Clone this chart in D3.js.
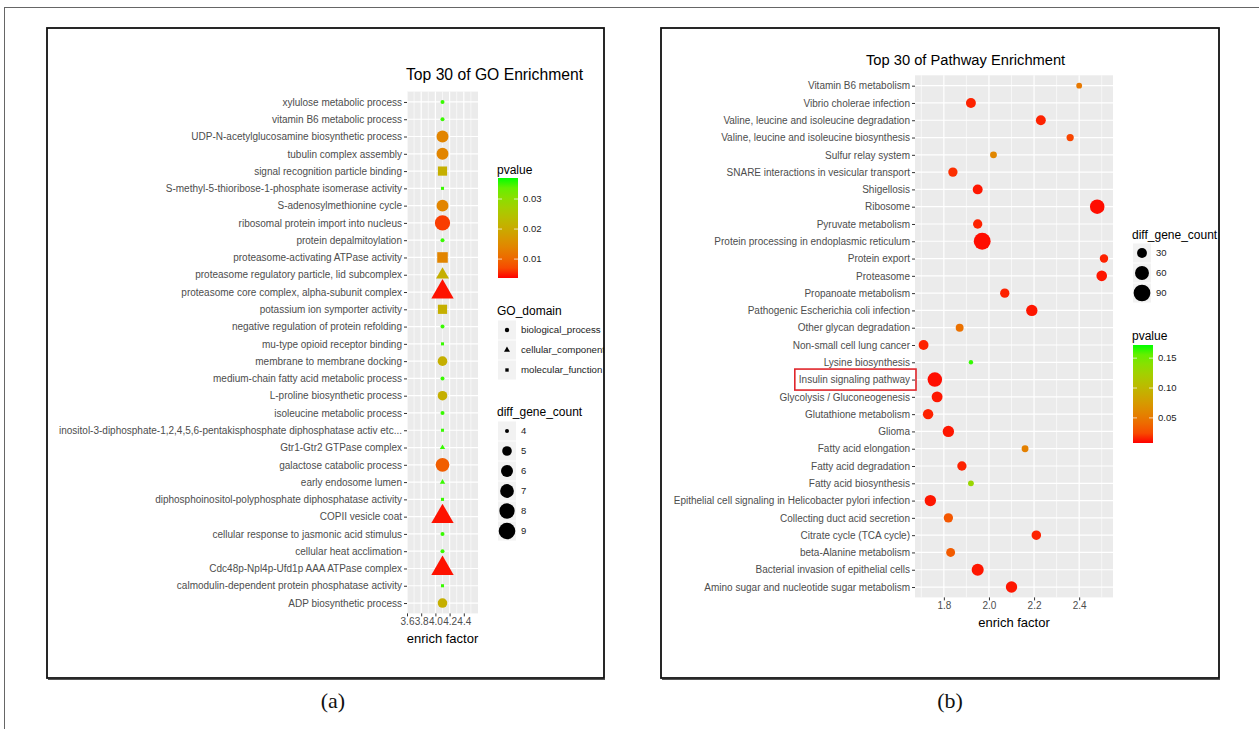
<!DOCTYPE html>
<html>
<head>
<meta charset="utf-8">
<script src="https://cdn.jsdelivr.net/npm/d3@7"></script>
<style>
  body { margin: 0; background: #fff; }
  svg text { font-family: "Liberation Sans", Arial, Helvetica, sans-serif; }
</style>
</head>
<body>
<div id="chart"></div>
<script>
// ---- panel (a): GO enrichment, listed top to bottom ----
const goTerms = [
  'xylulose metabolic process',
  'vitamin B6 metabolic process',
  'UDP-N-acetylglucosamine biosynthetic process',
  'tubulin complex assembly',
  'signal recognition particle binding',
  'S-methyl-5-thioribose-1-phosphate isomerase activity',
  'S-adenosylmethionine cycle',
  'ribosomal protein import into nucleus',
  'protein depalmitoylation',
  'proteasome-activating ATPase activity',
  'proteasome regulatory particle, lid subcomplex',
  'proteasome core complex, alpha-subunit complex',
  'potassium ion symporter activity',
  'negative regulation of protein refolding',
  'mu-type opioid receptor binding',
  'membrane to membrane docking',
  'medium-chain fatty acid metabolic process',
  'L-proline biosynthetic process',
  'isoleucine metabolic process',
  'inositol-3-diphosphate-1,2,4,5,6-pentakisphosphate diphosphatase activ etc...',
  'Gtr1-Gtr2 GTPase complex',
  'galactose catabolic process',
  'early endosome lumen',
  'diphosphoinositol-polyphosphate diphosphatase activity',
  'COPII vesicle coat',
  'cellular response to jasmonic acid stimulus',
  'cellular heat acclimation',
  'Cdc48p-Npl4p-Ufd1p AAA ATPase complex',
  'calmodulin-dependent protein phosphatase activity',
  'ADP biosynthetic process'
];
const goDomain = [
  'biological_process', 'biological_process', 'biological_process', 'biological_process',
  'molecular_function', 'molecular_function', 'biological_process', 'biological_process',
  'biological_process', 'molecular_function', 'cellular_component', 'cellular_component',
  'molecular_function', 'biological_process', 'molecular_function', 'biological_process',
  'biological_process', 'biological_process', 'biological_process', 'molecular_function',
  'cellular_component', 'biological_process', 'cellular_component', 'molecular_function',
  'cellular_component', 'biological_process', 'biological_process', 'cellular_component',
  'molecular_function', 'biological_process'
];
const goCount = [4, 4, 6, 6, 6, 4, 6, 8, 4, 7, 5, 9, 6, 4, 4, 5, 4, 5, 4, 4, 4, 7, 4, 4, 9, 4, 4, 9, 4, 5];
const goPvalue = [0.036, 0.036, 0.014, 0.014, 0.021, 0.036, 0.014, 0.006, 0.036, 0.014,
  0.021, 0.004, 0.021, 0.036, 0.036, 0.021, 0.036, 0.021, 0.036, 0.036,
  0.036, 0.009, 0.036, 0.036, 0.004, 0.036, 0.036, 0.004, 0.036, 0.021];
const goEnrich = [4.1, 4.1, 4.1, 4.1, 4.1, 4.1, 4.1, 4.1, 4.1, 4.1, 4.1, 4.1, 4.1, 4.1, 4.1,
  4.1, 4.1, 4.1, 4.1, 4.1, 4.1, 4.1, 4.1, 4.1, 4.1, 4.1, 4.1, 4.1, 4.1, 4.1];
const goTicks = [3.6, 3.8, 4.0, 4.2, 4.4];
const goDomains = ['biological_process', 'cellular_component', 'molecular_function'];
const goSizeBreaks = [4, 5, 6, 7, 8, 9];
const goPBreaks = [0.01, 0.02, 0.03];

// ---- panel (b): pathway enrichment, listed top to bottom ----
const pathTerms = [
  'Vitamin B6 metabolism',
  'Vibrio cholerae infection',
  'Valine, leucine and isoleucine degradation',
  'Valine, leucine and isoleucine biosynthesis',
  'Sulfur relay system',
  'SNARE interactions in vesicular transport',
  'Shigellosis',
  'Ribosome',
  'Pyruvate metabolism',
  'Protein processing in endoplasmic reticulum',
  'Protein export',
  'Proteasome',
  'Propanoate metabolism',
  'Pathogenic Escherichia coli infection',
  'Other glycan degradation',
  'Non-small cell lung cancer',
  'Lysine biosynthesis',
  'Insulin signaling pathway',
  'Glycolysis / Gluconeogenesis',
  'Glutathione metabolism',
  'Glioma',
  'Fatty acid elongation',
  'Fatty acid degradation',
  'Fatty acid biosynthesis',
  'Epithelial cell signaling in Helicobacter pylori infection',
  'Collecting duct acid secretion',
  'Citrate cycle (TCA cycle)',
  'beta-Alanine metabolism',
  'Bacterial invasion of epithelial cells',
  'Amino sugar and nucleotide sugar metabolism'
];
const pathEnrich = [2.40, 1.92, 2.23, 2.36, 2.02, 1.84, 1.95, 2.48, 1.95, 1.97,
  2.51, 2.50, 2.07, 2.19, 1.87, 1.71, 1.92, 1.76, 1.77, 1.73,
  1.82, 2.16, 1.88, 1.92, 1.74, 1.82, 2.21, 1.83, 1.95, 2.10];
const pathCount = [16, 30, 30, 19, 18, 27, 30, 66, 27, 92,
  23, 34, 27, 39, 21, 30, 15, 66, 36, 33,
  39, 18, 27, 16, 39, 27, 28, 25, 44, 39];
const pathPvalue = [0.05, 0.012, 0.012, 0.022, 0.06, 0.015, 0.01, 0.009, 0.012, 0.009,
  0.012, 0.01, 0.012, 0.01, 0.045, 0.012, 0.168, 0.009, 0.01, 0.012,
  0.01, 0.055, 0.012, 0.13, 0.01, 0.03, 0.012, 0.032, 0.01, 0.01];
const pathTicks = [1.8, 2.0, 2.2, 2.4];
const pathSizeBreaks = [30, 60, 90];
const pathPBreaks = [0.05, 0.10, 0.15];
const highlightTerm = 'Insulin signaling pathway';

// ---------------------------------------------------------------
const W = 1259, H = 729;
const svg = d3.select('#chart').append('svg').attr('width', W).attr('height', H);
const defs = svg.append('defs');

// figure frame and panel frames
svg.append('rect').attr('x', 4.5).attr('y', 7.5).attr('width', W + 20).attr('height', H + 20)
  .attr('fill', 'none').attr('stroke', '#666').attr('stroke-width', 1);

const boxes = [
  { id: 'a', x: 47, y: 28, w: 557, h: 650, label: '(a)', lx: 333 },
  { id: 'b', x: 661, y: 28, w: 558, h: 650, label: '(b)', lx: 950 }
];
boxes.forEach(b => {
  defs.append('clipPath').attr('id', 'clip-' + b.id)
    .append('rect').attr('x', b.x).attr('y', b.y).attr('width', b.w).attr('height', b.h);
  svg.append('text').attr('x', b.lx).attr('y', 708).attr('text-anchor', 'middle')
    .style('font-family', '"Liberation Serif", "Times New Roman", serif')
    .style('font-size', '22px').attr('fill', '#111').text(b.label);
});

const shapeOf = { biological_process: d3.symbolCircle, cellular_component: d3.symbolTriangle, molecular_function: d3.symbolSquare };
const areaFactor = { biological_process: 1, cellular_component: 1, molecular_function: 0.75 };

function symbolPath(domain, r) {
  return d3.symbol().type(shapeOf[domain]).size(Math.PI * r * r * areaFactor[domain])();
}

function dotPanel(o) {
  const g = svg.append('g').attr('clip-path', `url(#clip-${o.id})`);
  const x = d3.scaleLinear().domain(o.xDomain).range([o.left, o.right]);
  const y = d3.scalePoint().domain(o.terms).range([o.top, o.bottom]).padding(0.6);

  g.append('rect').attr('x', o.left).attr('y', o.top)
    .attr('width', o.right - o.left).attr('height', o.bottom - o.top).attr('fill', '#EBEBEB');

  // grid
  const grid = g.append('g').attr('stroke', '#fff');
  grid.selectAll('.minor').data(o.minor).join('line')
    .attr('x1', d => x(d)).attr('x2', d => x(d)).attr('y1', o.top).attr('y2', o.bottom)
    .attr('stroke-width', 0.6);
  grid.selectAll('.majx').data(o.ticks).join('line')
    .attr('x1', d => x(d)).attr('x2', d => x(d)).attr('y1', o.top).attr('y2', o.bottom)
    .attr('stroke-width', 1.2);
  grid.selectAll('.majy').data(o.terms).join('line')
    .attr('y1', d => y(d)).attr('y2', d => y(d)).attr('x1', o.left).attr('x2', o.right)
    .attr('stroke-width', 1.2);

  // axes
  const ya = g.append('g').attr('transform', `translate(${o.left},0)`)
    .call(d3.axisLeft(y).tickSize(3).tickPadding(2));
  const xa = g.append('g').attr('transform', `translate(0,${o.bottom})`)
    .call(d3.axisBottom(x).tickValues(o.ticks).tickFormat(d3.format('.1f')).tickSize(3).tickPadding(2));
  [ya, xa].forEach(a => {
    a.select('.domain').remove();
    a.selectAll('.tick line').attr('stroke', '#333').attr('stroke-width', 1);
    a.selectAll('text').attr('fill', '#4D4D4D').style('font-size', '10px');
  });

  // points
  const pts = o.terms.map((t, i) => ({ term: t, x: o.enrich[i], n: o.count[i], p: o.pvalue[i], dom: o.dom ? o.dom[i] : 'biological_process' }));
  g.selectAll('.pt').data(pts).join('path')
    .attr('transform', d => `translate(${x(d.x)},${y(d.term)})`)
    .attr('d', d => symbolPath(d.dom, o.size(d.n)))
    .attr('fill', d => o.color(d.p));

  // titles
  g.append('text').attr('x', o.titleX).attr('y', o.titleY).attr('fill', '#000')
    .style('font-size', o.titleSize).text(o.title);
  g.append('text').attr('x', (o.left + o.right) / 2).attr('y', o.xlabY).attr('text-anchor', 'middle')
    .attr('fill', '#000').style('font-size', '13px').text('enrich factor');

  return { g, x, y, ya };
}

function colorBar(g, o) {
  const gid = 'grad-' + o.id;
  const lg = defs.append('linearGradient').attr('id', gid)
    .attr('x1', 0).attr('y1', 1).attr('x2', 0).attr('y2', 0);
  d3.range(0, 1.0001, 0.1).forEach(t => {
    lg.append('stop').attr('offset', t)
      .attr('stop-color', o.color(o.color.domain()[0] + t * (o.color.domain()[1] - o.color.domain()[0])));
  });
  g.append('text').attr('x', o.x).attr('y', o.titleY).style('font-size', '12px').attr('fill', '#000').text('pvalue');
  g.append('rect').attr('x', o.x + 1).attr('y', o.top).attr('width', 20).attr('height', o.bottom - o.top)
    .attr('fill', `url(#${gid})`);
  const yb = d3.scaleLinear().domain(o.color.domain()).range([o.bottom, o.top]);
  o.breaks.forEach(b => {
    g.append('line').attr('x1', o.x + 1).attr('x2', o.x + 5).attr('y1', yb(b)).attr('y2', yb(b)).attr('stroke', '#fff').attr('stroke-opacity', 0.7);
    g.append('line').attr('x1', o.x + 17).attr('x2', o.x + 21).attr('y1', yb(b)).attr('y2', yb(b)).attr('stroke', '#fff').attr('stroke-opacity', 0.7);
    g.append('text').attr('x', o.x + 26).attr('y', yb(b)).attr('dy', '0.35em')
      .style('font-size', '9.5px').attr('fill', '#222').text(b.toFixed(o.digits));
  });
}

function sizeLegend(g, o) {
  g.append('text').attr('x', o.x).attr('y', o.titleY).style('font-size', '12px').attr('fill', '#000').text('diff_gene_count');
  o.breaks.forEach((b, i) => {
    const cy = o.y0 + i * 20;
    g.append('rect').attr('x', o.x + 1).attr('y', cy - 9.5).attr('width', 18).attr('height', 19).attr('fill', '#F2F2F2');
    g.append('circle').attr('cx', o.x + 10).attr('cy', cy).attr('r', o.size(b)).attr('fill', '#000');
    g.append('text').attr('x', o.x + 24).attr('y', cy).attr('dy', '0.35em')
      .style('font-size', '9.5px').attr('fill', '#222').text(b);
  });
}

// ---- panel (a)
const goColor = d3.scaleLinear().domain([0.0037, 0.037]).range(['#FF0000', '#00FF00']).interpolate(d3.interpolateLab);
const goSizeRaw = d3.scaleSqrt().domain([0, 9 - 4]).range([2, 8.3]);
const goSize = n => goSizeRaw(n - 4);

const A = dotPanel({
  id: 'a', terms: goTerms, enrich: goEnrich, count: goCount, pvalue: goPvalue, dom: goDomain,
  left: 407, right: 478, top: 91.6, bottom: 613.4,
  xDomain: [3.6, 4.6], ticks: goTicks, minor: [3.7, 3.9, 4.1, 4.3, 4.5],
  size: goSize, color: goColor,
  title: 'Top 30 of GO Enrichment', titleSize: '15.7px', titleX: 406, titleY: 80, xlabY: 643
});

colorBar(A.g, { id: 'a', x: 497, titleY: 174, top: 178, bottom: 278, color: goColor, breaks: goPBreaks, digits: 2 });

A.g.append('text').attr('x', 497).attr('y', 315).style('font-size', '12px').attr('fill', '#000').text('GO_domain');
goDomains.forEach((d, i) => {
  const cy = 330 + i * 20;
  A.g.append('rect').attr('x', 498).attr('y', cy - 9.5).attr('width', 18).attr('height', 19).attr('fill', '#F2F2F2');
  A.g.append('path').attr('transform', `translate(507,${cy})`).attr('d', symbolPath(d, 2.2)).attr('fill', '#000');
  A.g.append('text').attr('x', 521).attr('y', cy).attr('dy', '0.35em')
    .style('font-size', '9.7px').attr('fill', '#222').text(d);
});

sizeLegend(A.g, { x: 497, titleY: 416, y0: 431, breaks: goSizeBreaks, size: goSize });

// ---- panel (b)
const pathColor = d3.scaleLinear().domain([0.008, 0.172]).range(['#FF0000', '#00FF00']).interpolate(d3.interpolateLab);
const nMin = d3.min(pathCount), nMax = d3.max(pathCount);
const pathSizeRaw = d3.scaleSqrt().domain([0, nMax - nMin]).range([2.2, 8.44]);
const pathSize = n => pathSizeRaw(Math.max(0, n - nMin));

const B = dotPanel({
  id: 'b', terms: pathTerms, enrich: pathEnrich, count: pathCount, pvalue: pathPvalue,
  left: 915, right: 1113, top: 75.3, bottom: 597.4,
  xDomain: [1.672, 2.55], ticks: pathTicks, minor: [1.7, 1.9, 2.1, 2.3, 2.5],
  size: pathSize, color: pathColor,
  title: 'Top 30 of Pathway Enrichment', titleSize: '14.7px', titleX: 866, titleY: 65, xlabY: 627
});

sizeLegend(B.g, { x: 1132, titleY: 239, y0: 253, breaks: pathSizeBreaks, size: pathSize });
colorBar(B.g, { id: 'b', x: 1132, titleY: 340, top: 345, bottom: 443, color: pathColor, breaks: pathPBreaks, digits: 2 });

// red box around highlighted pathway label
B.ya.selectAll('.tick').filter(d => d === highlightTerm).each(function () {
  const bb = this.querySelector('text').getBBox();
  const ty = B.y(highlightTerm);
  B.g.append('rect')
    .attr('x', 915 + bb.x - 4).attr('y', ty - 10.5)
    .attr('width', bb.width + 10).attr('height', 21)
    .attr('fill', 'none').attr('stroke', '#E0262B').attr('stroke-width', 1.6);
});

// panel frames on top
boxes.forEach(b => {
  svg.append('rect').attr('x', b.x).attr('y', b.y).attr('width', b.w).attr('height', b.h)
    .attr('fill', 'none').attr('stroke', '#111').attr('stroke-width', 1.8);
  svg.append('line').attr('x1', b.x + 1).attr('x2', b.x + b.w + 1).attr('y1', b.y + b.h + 1.5).attr('y2', b.y + b.h + 1.5)
    .attr('stroke', '#555').attr('stroke-width', 1.2);
});
</script>
</body>
</html>
